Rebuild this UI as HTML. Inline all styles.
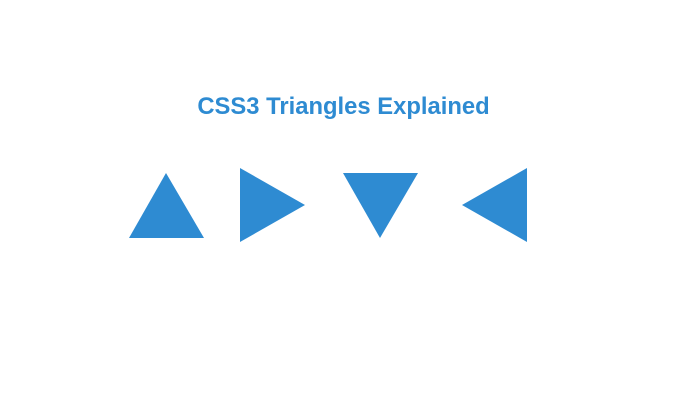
<!DOCTYPE html>
<html><head><meta charset="utf-8"><style>
html,body{margin:0;padding:0;background:#fff;width:700px;height:400px;overflow:hidden}
</style></head><body>
<svg width="700" height="400" xmlns="http://www.w3.org/2000/svg">
<text x="343.5" y="114" text-anchor="middle" font-family="Liberation Sans, sans-serif" font-weight="bold" font-size="23.8" fill="#2e8bd2">CSS3 Triangles Explained</text>
<polygon points="166,173 204,238 129,238" fill="#2e8bd2"/>
<polygon points="240,168 305,205 240,242" fill="#2e8bd2"/>
<polygon points="343,173 418,173 380,238" fill="#2e8bd2"/>
<polygon points="527,168 527,242 462,205" fill="#2e8bd2"/>
</svg>
</body></html>
